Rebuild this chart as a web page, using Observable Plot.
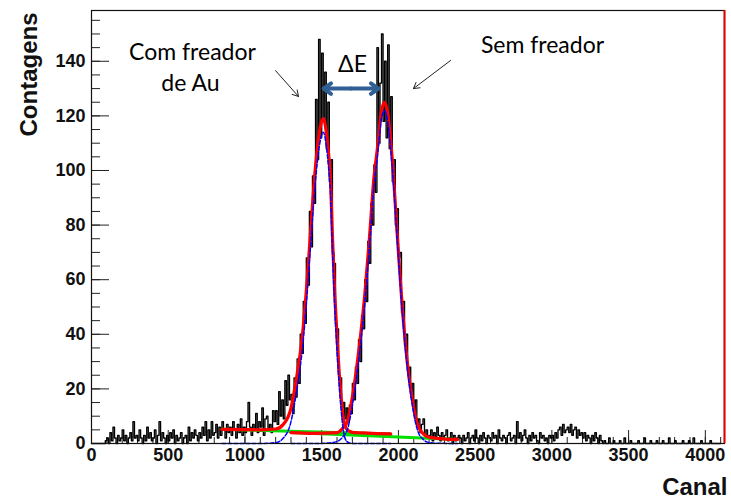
<!DOCTYPE html>
<html><head><meta charset="utf-8">
<script src="https://cdn.jsdelivr.net/npm/d3@7"></script>
<script src="https://cdn.jsdelivr.net/npm/@observablehq/plot@0.6"></script>
<style>body{margin:0;background:#fff}</style>
</head><body><div id="chart"></div>
<script>
// Histogram: counts per 10-channel bin, starting at channel 0
const binWidth = 10;
const counts = [
0,0,0,0,0,0,0,0,0,1,
2,0,4,1,6,2,0,3,1,2,
5,1,3,0,2,4,1,8,2,3,
1,5,2,0,3,1,6,2,4,1,
2,5,0,3,8,1,4,2,0,3,
1,4,2,5,0,3,1,2,4,0,
2,3,0,6,1,4,2,5,3,1,
4,2,6,3,8,1,5,2,8,3,
4,7,2,6,3,8,5,2,7,4,
6,3,8,5,2,7,4,9,3,6,
4,8,15,6,3,7,5,11,4,8,
6,13,3,9,10,5,7,4,12,8,
12,7,19,10,16,9,23,14,25,16,
18,11,24,17,31,22,40,33,52,44,
68,58,85,72,98,88,126,104,148,112,
143,118,136,108,125,96,104,70,66,44,
42,25,24,13,15,9,13,8,14,11,
22,16,28,22,38,30,47,42,60,52,
74,66,88,80,102,92,145,110,132,150,
118,140,112,146,108,127,96,104,80,86,
68,70,48,52,36,40,26,28,17,22,
12,16,6,9,4,7,9,3,5,2,
3,5,1,4,2,6,3,1,4,2,
3,5,1,2,4,0,3,1,2,3,
2,0,3,1,2,4,0,2,3,1,
5,2,0,3,1,4,2,0,3,2,
1,4,2,3,0,5,2,1,3,2,
0,3,4,1,2,3,0,8,2,4,
1,3,5,2,0,3,1,4,2,3,
1,0,4,2,3,1,2,0,3,2,
3,1,4,2,5,6,3,7,4,5,
6,4,7,3,5,6,2,5,3,4,
2,4,1,3,2,0,3,1,4,2,
0,3,1,0,1,0,0,2,0,0,
1,0,0,0,1,0,0,2,0,0,
0,1,0,0,0,0,1,0,0,0,
2,0,0,0,1,0,0,0,1,0,
0,0,1,0,0,0,2,0,0,0,
1,0,0,0,0,1,0,0,0,1,
0,0,2,0,0,0,0,1,0,0,
0,0,0,1,0,0,0,0,0,0
];

// Fit 1 (with Au stopper): total (red), peak only (blue), background (green)
const red1X  = [850,1000,1100,1200,1250,1300,1318,1350,1375,1400,1427,1459,1485,1500,1511,1530,1545,1557,1570,1585,1602,1622,1642,1660,1680,1700,1800,1950];
const red1Y  = [5.2,5.1,5.0,5.3,7,13,18,29,40,56,77,101,114,118,119,114,106,97,76,55,37,20,9,5.5,4.5,4.1,3.8,3.5];
const blue1X = [850,1100,1200,1250,1300,1318,1350,1375,1400,1427,1459,1485,1500,1511,1530,1545,1557,1570,1585,1602,1622,1642,1660,1680,1700,1950];
const blue1Y = [0,0,0.3,2,8,13,24,35,51,72,96,109,113,114,109,101,92,71,50,32,15.5,4.5,1,0.2,0,0];
const green1X = [850,1950];
const green1Y = [5.2,3.5];

// Fit 2 (without stopper)
const red2X  = [1300,1450,1600,1640,1667,1700,1746,1780,1811,1840,1863,1890,1909,1930,1960,1993,2020,2045,2070,2091,2110,2130,2160,2189,2250,2385];
const red2Y  = [4,3.7,4.0,5.8,8,17,36,54,75,97,108,122,125,121,104,76,54,37,24,16,10,6.2,3.7,2.5,1.9,1.5];
const blue2X = [1300,1450,1550,1600,1640,1667,1700,1746,1780,1811,1840,1863,1890,1909,1930,1960,1993,2020,2045,2070,2091,2110,2130,2160,2189,2250,2385];
const blue2Y = [0,0,0.2,0.7,2.6,5,14,33,51,72,94,105,119,122,118,101,74,52,35,22,14,8,4,1.6,0.5,0.1,0];
const green2X = [1300,2385];
const green2Y = [4,1.5];

// Axis ticks
const xMajor = [0,500,1000,1500,2000,2500,3000,3500,4000];
const yMajor = [0,20,40,60,80,100,120,140];
const xMinor = d3.range(0, 4101, 100);
const yMinor = d3.range(0, 156, 5);

// Annotations (data units)
const annText = ["Com freador","de Au","Sem freador","ΔE"];
const annX = [658, 645, 2939, 1701];
const annY = [143.0, 131.9, 145.6, 138.8];
const arrowX1 = [1199, 2340];
const arrowY1 = [136.6, 140.3];
const arrowX2 = [1349, 2098];
const arrowY2 = [127.1, 130.0];
const dEcenter = 1691, dEleft = 1512, dEright = 1870, dEy = 130;

const xMax = 4125, yMax = 158.6;
const W = 731, H = 500, mL = 91, mR = 7, mT = 10, mB = 57;
const pw = W - mL - mR, ph = H - mT - mB;

const hist = counts.map((c, i) => ({x: i * binWidth, y: c}));
hist.push({x: counts.length * binWidth, y: counts[counts.length - 1]});
const pts = (xs, ys) => xs.map((x, i) => ({x, y: ys[i]}));
const ann = annText.map((t, i) => ({t, x: annX[i], y: annY[i]}));
const arrows = arrowX1.map((x, i) => ({x1: x, y1: arrowY1[i], x2: arrowX2[i], y2: arrowY2[i]}));
const dE = [{x1: dEcenter, x2: dEleft}, {x1: dEcenter, x2: dEright}];

const font = "Liberation Sans, Arial, Helvetica, sans-serif";
const annFont = "Lato, Carlito, Calibri, sans-serif";

const chart = Plot.plot({
  width: W, height: H,
  marginLeft: mL, marginRight: mR, marginTop: mT, marginBottom: mB,
  style: {fontFamily: font, fontSize: "18px", fontWeight: "bold", color: "#111", background: "#fff"},
  x: {domain: [0, xMax], axis: null},
  y: {domain: [0, yMax], axis: null},
  marks: [
    Plot.tickY(yMinor, {y: d => d, insetRight: pw - 9, stroke: "#222"}),
    Plot.tickY(yMajor, {y: d => d, insetRight: pw - 18, stroke: "#222"}),
    Plot.tickX(xMinor, {x: d => d, insetTop: ph - 6, stroke: "#222"}),
    Plot.tickX(xMajor, {x: d => d, insetTop: ph - 13, stroke: "#222"}),
    Plot.axisY({ticks: yMajor, tickSize: 0, tickPadding: 6, tickFormat: d => String(d), fontSize: 18, fontWeight: "bold"}),
    Plot.axisX({ticks: xMajor, tickSize: 0, tickPadding: 5, tickFormat: d => String(d), fontSize: 18, fontWeight: "bold"}),
    Plot.line(hist, {x: "x", y: "y", curve: "step-after", stroke: "#000", strokeWidth: 1.35}),
    Plot.line(pts(green1X, green1Y), {x: "x", y: "y", stroke: "#00e000", strokeWidth: 3}),
    Plot.line(pts(green2X, green2Y), {x: "x", y: "y", stroke: "#00e000", strokeWidth: 3}),
    Plot.line(pts(red1X, red1Y), {x: "x", y: "y", curve: "monotone-x", stroke: "#ff0000", strokeWidth: 3.2}),
    Plot.line(pts(red2X, red2Y), {x: "x", y: "y", curve: "monotone-x", stroke: "#ff0000", strokeWidth: 3.2}),
    Plot.line(pts(blue1X, blue1Y), {x: "x", y: "y", curve: "monotone-x", stroke: "#0000ff", strokeWidth: 1.5, strokeDasharray: "4,2"}),
    Plot.line(pts(blue2X, blue2Y), {x: "x", y: "y", curve: "monotone-x", stroke: "#0000ff", strokeWidth: 1.5, strokeDasharray: "4,2"}),
    Plot.frame({stroke: "#111", strokeWidth: 1.2}),
    Plot.ruleX([xMax], {stroke: "#e00000", strokeWidth: 2}),
    Plot.text(["Contagens"], {frameAnchor: "top-left", rotate: -90, textAnchor: "end", lineAnchor: "middle", dx: -62, dy: 2, fontSize: 24, fontWeight: "bold", fill: "#111"}),
    Plot.text(["Canal"], {frameAnchor: "bottom-right", textAnchor: "end", lineAnchor: "middle", dx: 3, dy: 43.5, fontSize: 24, fontWeight: "bold", fill: "#111"}),
    Plot.text(ann, {x: "x", y: "y", text: "t", textAnchor: "middle", lineAnchor: "middle", fontFamily: annFont, fontSize: 23, fontWeight: "normal", fill: "#000"}),
    Plot.arrow(arrows, {x1: "x1", y1: "y1", x2: "x2", y2: "y2", stroke: "#222", strokeWidth: 1, headLength: 10}),
    Plot.arrow(dE, {x1: "x1", y1: () => dEy, x2: "x2", y2: () => dEy, stroke: "#2f5f93", strokeWidth: 4, headLength: 12, headAngle: 70})
  ]
});
document.getElementById("chart").appendChild(chart);
</script>
</body></html>
